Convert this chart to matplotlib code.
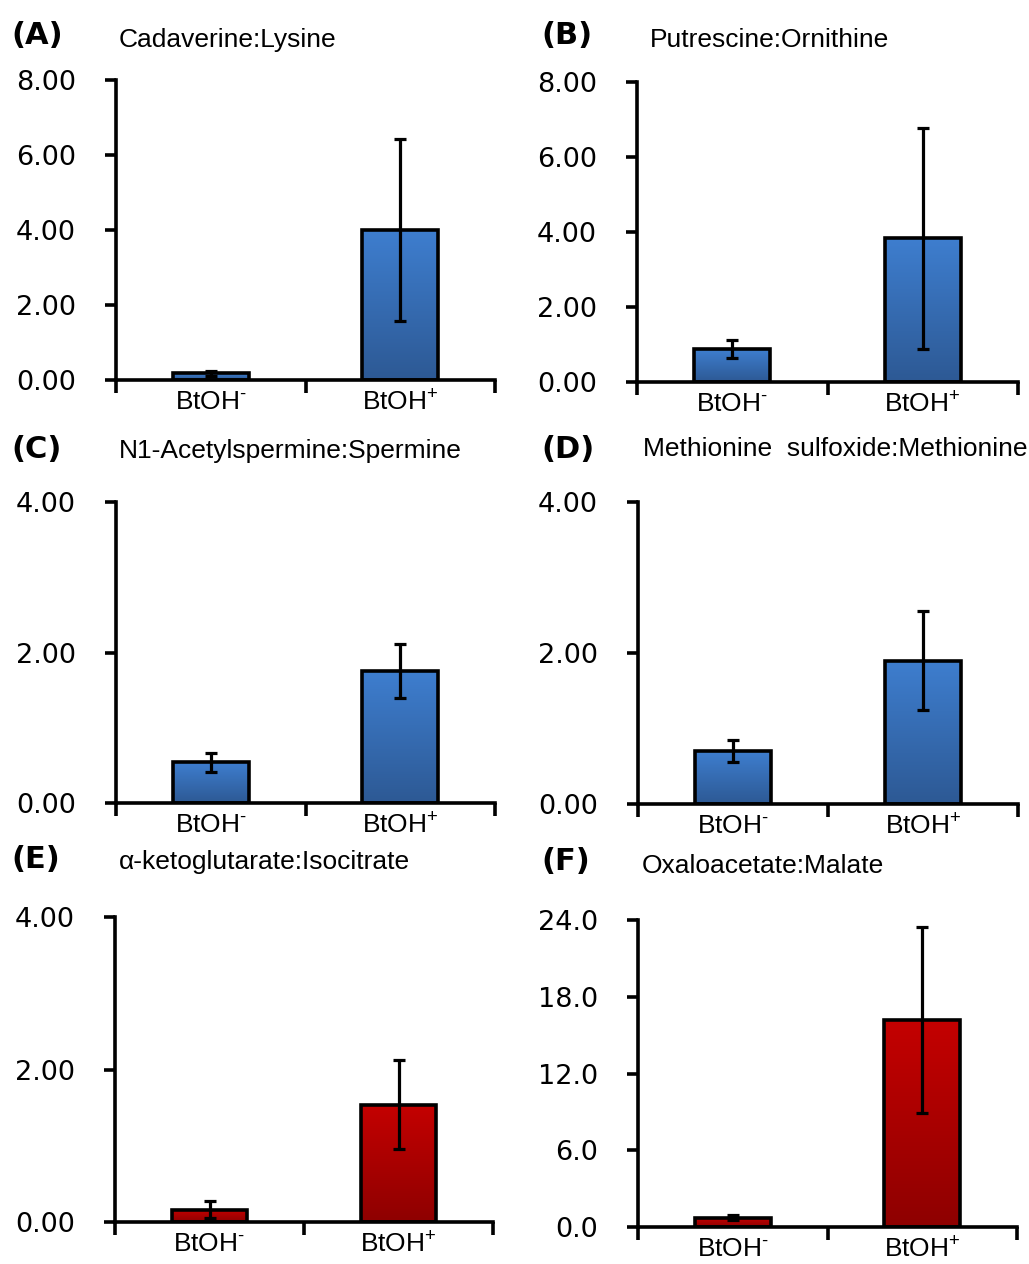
import numpy as np
import matplotlib
matplotlib.use("Agg")
import matplotlib.pyplot as plt
from matplotlib.colors import LinearSegmentedColormap

plt.rcParams["mathtext.fontset"] = "custom"
plt.rcParams["mathtext.rm"] = "Liberation Sans"
plt.rcParams["mathtext.it"] = "Liberation Sans:italic"
plt.rcParams["mathtext.bf"] = "Liberation Sans:bold"

# ---- data -------------------------------------------------------------
groups = [r"BtOH$^{\text{-}}$", r"BtOH$^{\text{+}}$"]

panel_letters = ["(A)", "(B)", "(C)", "(D)", "(E)", "(F)"]
ratio_names = [
    "Cadaverine:Lysine",
    "Putrescine:Ornithine",
    "N1-Acetylspermine:Spermine",
    "Methionine  sulfoxide:Methionine",
    "\u03b1-ketoglutarate:Isocitrate",
    "Oxaloacetate:Malate",
]

cadaverine_lysine = [0.18, 4.00]
cadaverine_lysine_err = [0.06, 2.43]
putrescine_ornithine = [0.88, 3.83]
putrescine_ornithine_err = [0.24, 2.95]
acetylspermine_spermine = [0.54, 1.75]
acetylspermine_spermine_err = [0.13, 0.36]
metsulfoxide_methionine = [0.70, 1.90]
metsulfoxide_methionine_err = [0.15, 0.65]
akg_isocitrate = [0.16, 1.54]
akg_isocitrate_err = [0.11, 0.58]
oxaloacetate_malate = [0.73, 16.2]
oxaloacetate_malate_err = [0.20, 7.25]

yticks_ab = [0, 2, 4, 6, 8]
yticks_cde = [0, 2, 4]
yticks_f = [0, 6, 12, 18, 24]

# ---- styling ----------------------------------------------------------
W, H = 1029, 1264
fig = plt.figure(figsize=(W / 100, H / 100), dpi=100)

blue_grad = LinearSegmentedColormap.from_list("blue", ["#2D5994", "#3E7ECF"])
red_grad = LinearSegmentedColormap.from_list("red", ["#8E0000", "#C40000"])

label_font = ["Liberation Sans", "DejaVu Sans"]
LW = 2.6

# panel boxes in pixels: left, top, right, bottom
boxes = [
    (116, 80, 495, 380),
    (637, 82, 1018, 382),
    (116, 502, 495, 803),
    (638, 502, 1018, 804),
    (115, 917, 493, 1222),
    (638, 920, 1017, 1227),
]
letter_pos = [(11, 35), (541, 35), (11, 450), (541, 450), (11, 860), (541, 862)]
title_pos = [(119, 40), (650, 40), (119, 451), (643, 449), (119, 862), (642, 866)]

panels = [
    (cadaverine_lysine, cadaverine_lysine_err, yticks_ab, "%.2f", blue_grad),
    (putrescine_ornithine, putrescine_ornithine_err, yticks_ab, "%.2f", blue_grad),
    (acetylspermine_spermine, acetylspermine_spermine_err, yticks_cde, "%.2f", blue_grad),
    (metsulfoxide_methionine, metsulfoxide_methionine_err, yticks_cde, "%.2f", blue_grad),
    (akg_isocitrate, akg_isocitrate_err, yticks_cde, "%.2f", red_grad),
    (oxaloacetate_malate, oxaloacetate_malate_err, yticks_f, "%.1f", red_grad),
]

gradient = np.linspace(0, 1, 256).reshape(-1, 1)

for i, (vals, errs, yt, fmt, cmap) in enumerate(panels):
    l, t, r, b = boxes[i]
    ax = fig.add_axes([l / W, 1 - b / H, (r - l) / W, (b - t) / H])
    x = np.arange(len(groups))
    bars = ax.bar(x, vals, width=0.4, facecolor="none", edgecolor="black",
                  linewidth=LW, zorder=3)
    for bar in bars:
        bx, bw, bh = bar.get_x(), bar.get_width(), bar.get_height()
        im = ax.imshow(gradient, cmap=cmap, aspect="auto", origin="lower",
                       extent=(bx, bx + bw, 0, bh), zorder=2)
        im.set_clip_path(bar)
    ax.errorbar(x, vals, yerr=errs, fmt="none", ecolor="black", elinewidth=2.3,
                capsize=4.5, capthick=2.3, zorder=4)

    ax.set_xlim(-0.5, 1.5)
    ax.set_ylim(yt[0], yt[-1])
    ax.set_yticks(yt)
    ax.set_yticklabels([fmt % v for v in yt])
    ax.set_xticks([-0.5, 0.5, 1.5])
    ax.set_xticklabels([])
    ax.set_xticks(x, minor=True)
    ax.set_xticklabels(groups, minor=True, fontsize=19, family=label_font)
    ax.tick_params(axis="x", which="major", direction="out", length=9, width=LW)
    ax.tick_params(axis="x", which="minor", length=0, pad=7)
    ax.tick_params(axis="y", direction="out", length=8, width=LW, pad=21,
                   labelsize=19.5)
    for side in ("top", "right"):
        ax.spines[side].set_visible(False)
    for side in ("left", "bottom"):
        ax.spines[side].set_linewidth(LW)
    ax.set_facecolor("none")

    lx, ly = letter_pos[i]
    fig.text(lx / W, 1 - ly / H, panel_letters[i], fontsize=22,
             fontweight="bold", ha="left", va="center")
    tx, ty = title_pos[i]
    fig.text(tx / W, 1 - ty / H, ratio_names[i], fontsize=19,
             family=label_font, ha="left", va="center")

fig.savefig("out.png", dpi=100, facecolor="white")
